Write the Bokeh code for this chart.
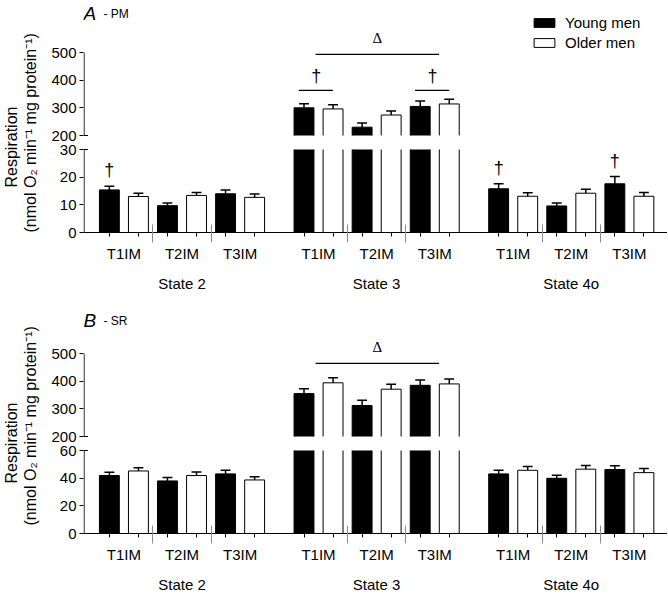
import math
from bokeh.plotting import figure
from bokeh.models import (Range1d, LinearAxis, FixedTicker, Label, Legend, LegendItem, Title)
from bokeh.layouts import column
from bokeh.embed import file_html
from bokeh.resources import INLINE
from bokeh.core.properties import value

# ---------------- data ----------------
states = ["State 2", "State 3", "State 4o"]
groups = ["T1IM", "T2IM", "T3IM"]
series = ["Young men", "Older men"]

# order: State 2 (T1,T2,T3), State 3 (T1,T2,T3), State 4o (T1,T2,T3)
A_young = [15.4, 9.7, 14.0, 300, 230, 305, 15.8, 9.6, 17.6]
A_young_err = [1.3, 1.0, 1.4, 15, 15, 20, 1.8, 1.1, 2.6]
A_older = [13.0, 13.4, 12.7, 296, 274, 314, 13.1, 14.2, 13.1]
A_older_err = [1.2, 1.1, 1.2, 15, 15, 17, 1.3, 1.4, 1.4]

B_young = [41.9, 38.0, 43.1, 355, 312, 385, 43.1, 39.9, 46.2]
B_young_err = [2.4, 2.4, 2.6, 18, 19, 19, 2.6, 2.2, 2.7]
B_older = [45.2, 41.9, 38.7, 394, 371, 390, 45.7, 46.5, 44.0]
B_older_err = [2.4, 2.6, 2.4, 18, 18, 18, 2.7, 2.6, 2.9]

# broken y axis: lower segment 0..low_max, upper segment 200..500
A_low_ticks = [0, 10, 20, 30]
B_low_ticks = [0, 20, 40, 60]
up_ticks = [200, 300, 400, 500]

# significance marks
A_delta_groups = [3, 5]          # Δ spans State 3 T1IM .. T3IM
A_delta_level = 493
A_pair_dagger_groups = [3, 5]    # bracketed † over State 3 T1IM and T3IM
A_pair_dagger_level = 363
A_single_dagger_groups = [0, 6, 8]   # † over young-men bars
B_delta_groups = [3, 5]
B_delta_level = 464

Y_LABEL_1 = "Respiration"
Y_LABEL_2 = "(nmol O\u2082 min\u207b\u00b9 mg protein\u207b\u00b9)"

# ---------------- layout constants ----------------
FONT = "Liberation Sans"
W = 667
BL = 80            # left border
BB = 66            # bottom border
PXU = 29.2         # pixels per x unit
X_START = (80 - 106) / PXU
X_END = X_START + (W - BL) / PXU
STATE_STEP = 6.7
BAR_W = 0.685
CAP = 0.34
SEG_PX = 83.0
GAP_PX = 14.0
UP_MIN, UP_MAX = up_ticks[0], up_ticks[-1]


def bar_x(k, j):
    s, g = divmod(k, 3)
    return s * STATE_STEP + 2 * g + j


def group_c(k):
    return bar_x(k, 0) + 0.5


def make_panel(letter, tag, young, young_err, older, older_err, low_ticks, height,
               delta_groups, delta_level, pair_groups=None, pair_level=None,
               single_groups=None, title_px=211, ylab_off=(45, 0), legend=False):
    FH = height - BB
    low_max = low_ticks[-1]
    ppu_low = SEG_PX / low_max
    ppu_up = SEG_PX / (UP_MAX - UP_MIN)
    low_end = FH / ppu_low
    up_start = UP_MIN - (SEG_PX + GAP_PX) / ppu_up
    up_end = up_start + FH / ppu_up

    p = figure(width=W, height=height, output_backend="svg", toolbar_location=None,
               x_range=Range1d(X_START, X_END), y_range=Range1d(0, low_end),
               min_border_left=BL, min_border_right=0, min_border_top=0,
               min_border_bottom=BB, outline_line_color=None)
    p.extra_y_ranges = {"upper": Range1d(up_start, up_end)}
    p.xgrid.visible = False
    p.ygrid.visible = False

    # ---- y axis (broken) ----
    def low_eq(u):
        return (SEG_PX + GAP_PX + (u - UP_MIN) * ppu_up) / ppu_low
    ticks = list(low_ticks) + [low_eq(u) for u in up_ticks]
    overrides = {t: str(t) for t in low_ticks}
    overrides.update({low_eq(u): str(u) for u in up_ticks})
    ya = p.yaxis[0]
    ya.ticker = FixedTicker(ticks=ticks)
    ya.major_label_overrides = overrides
    ya.bounds = (0, low_eq(UP_MAX))
    ya.axis_line_color = None
    ya.major_tick_out = 4
    ya.major_tick_in = 0
    ya.minor_tick_out = 0
    ya.minor_tick_in = 0
    ya.major_tick_line_color = "black"
    ya.major_label_standoff = 3
    ya.major_label_text_font = FONT
    ya.major_label_text_font_size = "15px"
    ya.major_label_text_color = "black"
    ya.axis_label = " "
    ya.axis_label_standoff = 6
    ya.axis_label_text_font_size = "1px"
    ax_x = X_START + 0.6 / PXU
    p.segment(x0=[ax_x], y0=[0], x1=[ax_x], y1=[low_max], line_color="black", line_width=1)
    p.segment(x0=[ax_x], y0=[UP_MIN], x1=[ax_x], y1=[UP_MAX], line_color="black",
              line_width=1, y_range_name="upper")
    # break marks: ticks at the break continue a little inside the frame
    stub = X_START + 4.5 / PXU
    p.segment(x0=[X_START], y0=[low_max], x1=[stub], y1=[low_max], line_color="black", line_width=1)
    p.segment(x0=[X_START], y0=[UP_MIN], x1=[stub], y1=[UP_MIN], line_color="black",
              line_width=1, y_range_name="upper")

    # y-axis label, two lines (closest line first)
    for txt, off in ((Y_LABEL_2, ylab_off[1]), (Y_LABEL_1, ylab_off[0])):
        p.add_layout(Title(text=txt, align="left", offset=off, standoff=0,
                           vertical_align="bottom", text_font=FONT, text_font_size="16px",
                           text_font_style="normal", text_color="black"), "left")

    # ---- x axes ----
    bar_centers = [bar_x(k, j) for k in range(9) for j in (0, 1)]
    separators = [s * STATE_STEP + off for s in range(3) for off in (1.5, 3.5)]
    xa = p.xaxis[0]
    xa.ticker = FixedTicker(ticks=separators, minor_ticks=bar_centers)
    xa.major_label_overrides = {t: "" for t in separators}
    xa.major_label_text_font_size = "1px"
    xa.major_label_standoff = 0
    xa.major_tick_in = 8
    xa.major_tick_out = 10
    xa.major_tick_line_color = "#8c8c8c"
    xa.minor_tick_in = 0
    xa.minor_tick_out = 4
    xa.minor_tick_line_color = "black"
    xa.axis_line_color = "black"

    gcs = [group_c(k) for k in range(9)]
    ax2 = LinearAxis(ticker=FixedTicker(ticks=gcs),
                     major_label_overrides={c: groups[k % 3] for k, c in enumerate(gcs)},
                     axis_line_color=None, major_tick_out=0, major_tick_in=0,
                     minor_tick_out=0, minor_tick_in=0, major_label_standoff=2,
                     major_label_text_font=FONT, major_label_text_font_size="15px",
                     major_label_text_color="black")
    p.add_layout(ax2, "below")
    scs = [s * STATE_STEP + 2.5 for s in range(3)]
    ax3 = LinearAxis(ticker=FixedTicker(ticks=scs),
                     major_label_overrides={c: states[i] for i, c in enumerate(scs)},
                     axis_line_color=None, major_tick_out=0, major_tick_in=0,
                     minor_tick_out=0, minor_tick_in=0, major_label_standoff=10,
                     major_label_text_font=FONT, major_label_text_font_size="15px",
                     major_label_text_color="black")
    p.add_layout(ax3, "below")

    # ---- bars ----
    renderers = {}
    for j, (vals, errs, fill) in enumerate([(young, young_err, "black"),
                                             (older, older_err, "white")]):
        xs = [bar_x(k, j) for k in range(9)]
        ok = [i for i in range(9) if vals[i] <= low_max]
        br = [i for i in range(9) if vals[i] > low_max]
        r = p.vbar(x=[xs[i] for i in ok], width=BAR_W, bottom=0, top=[vals[i] for i in ok],
                   fill_color=fill, line_color="black", line_width=1)
        renderers[j] = r
        p.vbar(x=[xs[i] for i in br], width=BAR_W, bottom=0, top=low_max,
               fill_color=fill, line_color=None)
        p.vbar(x=[xs[i] for i in br], width=BAR_W, bottom=UP_MIN, top=[vals[i] for i in br],
               fill_color=fill, line_color=None, y_range_name="upper")
        lx, ly = [], []
        for i in br:
            l, rr = xs[i] - BAR_W / 2, xs[i] + BAR_W / 2
            lx += [[l, l], [rr, rr]]
            ly += [[0, low_max], [0, low_max]]
        p.multi_line(xs=lx, ys=ly, line_color="black", line_width=1)
        ux = [[xs[i] - BAR_W / 2, xs[i] - BAR_W / 2, xs[i] + BAR_W / 2, xs[i] + BAR_W / 2] for i in br]
        uy = [[UP_MIN, vals[i], vals[i], UP_MIN] for i in br]
        p.multi_line(xs=ux, ys=uy, line_color="black", line_width=1, y_range_name="upper")
        for idx, rng in ((ok, "default"), (br, "upper")):
            kw = {} if rng == "default" else {"y_range_name": "upper"}
            bx = [xs[i] for i in idx]
            v0 = [vals[i] for i in idx]
            v1 = [vals[i] + errs[i] for i in idx]
            p.segment(x0=bx, y0=v0, x1=bx, y1=v1, line_color="black", line_width=1.5, **kw)
            p.segment(x0=[x - CAP / 2 for x in bx], y0=v1, x1=[x + CAP / 2 for x in bx], y1=v1,
                      line_color="black", line_width=1.5, **kw)

    # ---- significance marks ----
    g0, g1 = delta_groups
    dx0, dx1 = group_c(g0) - 0.1, group_c(g1) + 0.15
    p.segment(x0=[dx0], y0=[delta_level], x1=[dx1], y1=[delta_level], line_color="black",
              line_width=1.3, y_range_name="upper")
    p.text(x=[(dx0 + dx1) / 2], y=[delta_level + 8 / ppu_up], text=["Δ"], y_range_name="upper",
           text_align="center", text_baseline="bottom", text_font=value("Liberation Serif"),
           text_font_size="15px", text_color="black")
    if pair_groups:
        px0 = [group_c(g) - 0.68 for g in pair_groups]
        px1 = [group_c(g) + 0.5 for g in pair_groups]
        p.segment(x0=px0, y0=pair_level, x1=px1, y1=pair_level, line_color="black",
                  line_width=1.3, y_range_name="upper")
        p.text(x=[group_c(g) - 0.08 for g in pair_groups], y=pair_level + 4 / ppu_up,
               text=["†"] * len(pair_groups), y_range_name="upper", text_align="center",
               text_baseline="bottom", text_font=value(FONT), text_font_size="18px",
               text_color="black")
    if single_groups:
        sx = [bar_x(k, 0) for k in single_groups]
        sy = [young[k] + young_err[k] + 6 / ppu_low for k in single_groups]
        p.text(x=sx, y=sy, text=["†"] * len(sx), text_align="center", text_baseline="bottom",
               text_font=value(FONT), text_font_size="18px", text_color="black")

    # ---- panel title ----
    p.add_layout(Label(x=X_START, y=title_px / ppu_low, text=letter, text_font=FONT,
                       text_font_size="19px", text_font_style="italic",
                       text_baseline="alphabetic", text_color="black"))
    p.add_layout(Label(x=X_START + (100 - 80) / PXU, y=title_px / ppu_low, text="- " + tag,
                       text_font=FONT, text_font_size="12px", text_baseline="alphabetic",
                       text_color="black"))

    if legend:
        lg = Legend(items=[LegendItem(label=series[0], renderers=[renderers[0]]),
                           LegendItem(label=series[1], renderers=[renderers[1]])],
                    location=(448, 180), glyph_width=26, glyph_height=11, label_standoff=8,
                    label_text_font=FONT, label_text_font_size="15px", label_height=20,
                    spacing=0, padding=0, margin=0, border_line_color=None,
                    background_fill_alpha=0, label_text_color="black")
        p.add_layout(lg)
    return p


HA = 232 + BB
HB = 599 - HA
pA = make_panel("A", "PM", A_young, A_young_err, A_older, A_older_err, A_low_ticks, HA,
                A_delta_groups, A_delta_level, A_pair_dagger_groups, A_pair_dagger_level,
                A_single_dagger_groups, title_px=219, ylab_off=(45, 0), legend=True)
pB = make_panel("B", "SR", B_young, B_young_err, B_older, B_older_err, B_low_ticks, HB,
                B_delta_groups, B_delta_level, title_px=213, ylab_off=(50, 8))

layout = column(pA, pB, spacing=0)
open("out.html", "w").write(file_html(layout, INLINE))
